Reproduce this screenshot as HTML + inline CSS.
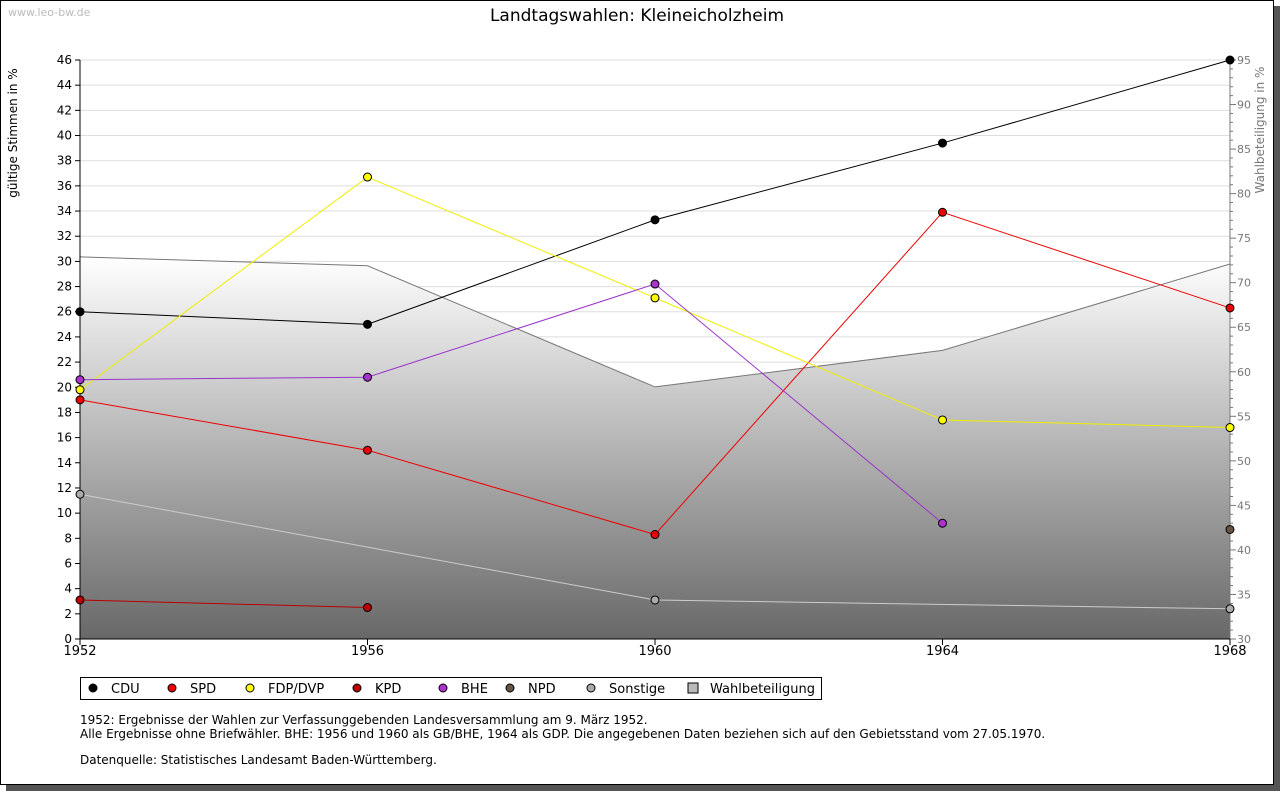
<!DOCTYPE html>
<html><head><meta charset="utf-8"><style>
body{margin:0;background:#fff;font-family:"DejaVu Sans","Liberation Sans",sans-serif}
</style></head><body>
<svg id="c" width="1280" height="791" xmlns="http://www.w3.org/2000/svg" font-family="DejaVu Sans, Liberation Sans, sans-serif">
<defs><linearGradient id="g" x1="0" y1="0" x2="0" y2="1"><stop offset="0" stop-color="#ffffff"/><stop offset="1" stop-color="#686868"/></linearGradient></defs>
<rect x="1274" y="6" width="6" height="785" fill="#555"/>
<rect x="6" y="785" width="1274" height="6" fill="#555"/>
<rect x="0.5" y="0.5" width="1273" height="784" fill="#fff" stroke="#000"/>
<text x="8" y="16" font-size="11" fill="#bbb">www.leo-bw.de</text>
<text x="637" y="21" font-size="17" text-anchor="middle">Landtagswahlen: Kleineicholzheim</text>
<g id="grid"></g><g id="area"></g><g id="axes"></g><g id="lines"></g>
<text transform="translate(17,133) rotate(-90)" font-size="12" text-anchor="middle">gültige Stimmen in %</text>
<text transform="translate(1264,130) rotate(-90)" font-size="12" fill="#777" text-anchor="middle">Wahlbeteiligung in %</text>
<rect x="80.5" y="677.5" width="741" height="22" fill="#fff" stroke="#000"/>
<g id="legend"></g>
<g font-size="12">
<text x="80" y="724">1952: Ergebnisse der Wahlen zur Verfassunggebenden Landesversammlung am 9. März 1952.</text>
<text x="80" y="738">Alle Ergebnisse ohne Briefwähler. BHE: 1956 und 1960 als GB/BHE, 1964 als GDP. Die angegebenen Daten beziehen sich auf den Gebietsstand vom 27.05.1970.</text>
<text x="80" y="764">Datenquelle: Statistisches Landesamt Baden-Württemberg.</text>
</g>
</svg>
<script>
const years=[1952,1956,1960,1964,1968];
const cdu=[26.0,25.0,33.3,39.4,46.0];
const spd=[19.0,15.0,8.3,33.9,26.3];
const fdp=[19.8,36.7,27.1,17.4,16.8];
const kpd=[3.1,2.5,null,null,null];
const bhe=[20.6,20.8,28.2,9.2,null];
const npd=[null,null,null,null,8.7];
const sonst=[11.5,null,3.1,null,2.4];
const turnout=[72.9,71.9,58.3,62.4,72.1];
const leftTicks=[0,2,4,6,8,10,12,14,16,18,20,22,24,26,28,30,32,34,36,38,40,42,44,46];
const rightTicks=[30,35,40,45,50,55,60,65,70,75,80,85,90,95];
const NS='http://www.w3.org/2000/svg';
const X=v=>80+(v-1952)/16*1150, Y=v=>639-v/46*579, Y2=v=>639-(v-30)/65*579;
function el(p,t,a){const e=document.createElementNS(NS,t);for(const k in a)e.setAttribute(k,a[k]);p.appendChild(e);return e;}
const grid=document.getElementById('grid'),axes=document.getElementById('axes'),lines=document.getElementById('lines'),area=document.getElementById('area'),leg=document.getElementById('legend');
leftTicks.forEach(t=>{const y=Y(t);
 if(t>0){const g=el(grid,'line',{x1:80,x2:1230,y1:y,y2:y,stroke:'#ddd'});}
 el(axes,'line',{x1:75,x2:80,y1:y,y2:y,stroke:'#000'});
 const tx=el(axes,'text',{x:72,y:y+4,'font-size':12,'text-anchor':'end'});tx.textContent=t;
 
 });
for(let v=30;v<=95;v++){const y=Y2(v);el(axes,'line',{x1:1230,x2:v%5?1233:1236,y1:y,y2:y,stroke:'#777'});}
rightTicks.forEach(t=>{const tx=el(axes,'text',{x:1237,y:Y2(t)+4,'font-size':11,fill:'#777'});tx.textContent=t;
 
 });
years.forEach(yr=>{const x=X(yr);el(axes,'line',{x1:x,x2:x,y1:639,y2:645,stroke:'#000'});
 const tx=el(axes,'text',{x:x,y:655,'font-size':13,'text-anchor':'middle'});tx.textContent=yr;
 
 });
el(axes,'line',{x1:80,x2:80,y1:60,y2:639,stroke:'#000'});
el(axes,'line',{x1:1230,x2:1230,y1:60,y2:639,stroke:'#777'});
el(axes,'line',{x1:80,x2:1230,y1:639,y2:639,stroke:'#000'});
let pts=years.map((y,i)=>X(y)+','+Y2(turnout[i])).join(' ');
const ar=el(area,'polygon',{points:'80,639 '+pts+' 1230,639',fill:'url(#g)'});


const al=el(area,'polyline',{points:pts,fill:'none',stroke:'#777'});


const series=[['CDU',cdu,'#000','#000'],['SPD',spd,'#e00','#e00'],['FDP/DVP',fdp,'#ff0','#ee0'],['KPD',kpd,'#b00','#b00'],['BHE',bhe,'#a3c','#93c'],['NPD',npd,'#654','#654'],['Sonstige',sonst,'#aaa','#ccc']];
series.forEach(([n,d,f,s])=>{
 const p=years.map((y,i)=>d[i]==null?null:[X(y),Y(d[i])]).filter(Boolean);
 if(p.length>1){const l=el(lines,'polyline',{points:p.map(q=>q.join(',')).join(' '),fill:'none',stroke:s});
  
  }
 p.forEach(q=>{const m=el(lines,'circle',{cx:q[0],cy:q[1],r:4,fill:f,stroke:'#000'});
  
  });
});
const lx=[93,172,250,357,443,510,591];
series.forEach(([n,d,f],i)=>{
 const c=el(leg,'circle',{cx:lx[i],cy:688,r:4,fill:f,stroke:'#000'});
 const t=el(leg,'text',{x:lx[i]+18,y:693,'font-size':13});t.textContent=n;
 
 });
el(leg,'rect',{x:688,y:683,width:10,height:10,fill:'#bbb',stroke:'#000'});
const tw=el(leg,'text',{x:710,y:693,'font-size':13});tw.textContent='Wahlbeteiligung';


</script>
</body></html>
